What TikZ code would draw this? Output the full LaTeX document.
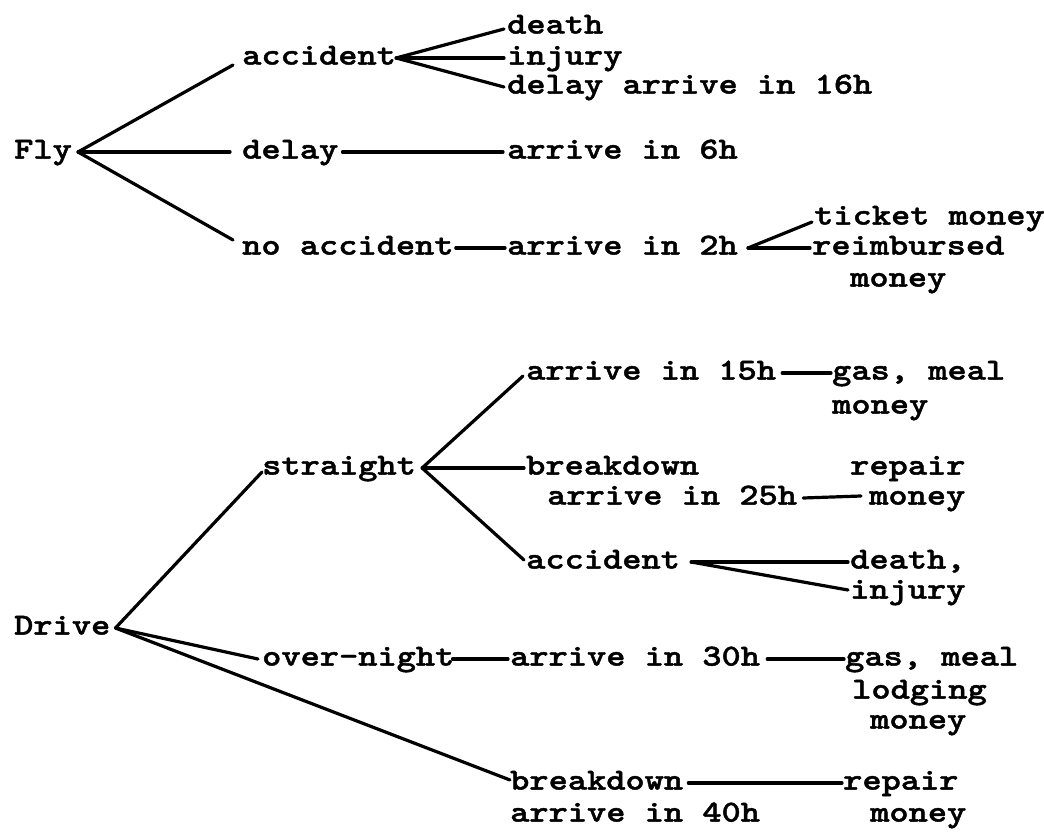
\documentclass[tikz,border=0pt]{standalone}
\usepackage{fontspec}
\newfontfamily\typew{lmmonolt10-bold.otf}[FakeBold=1.4, FakeStretch=1.2]
\begin{document}
\fontsize{30.5}{30.5}\selectfont\typew
\begin{tikzpicture}[x=1pt,y=-1pt,
  lbl/.style={anchor=mid west, inner sep=0pt, text height=13pt, text depth=4pt,
              font=\fontsize{30.5}{30.5}\selectfont\typew},
  edge/.style={line width=3.2pt, line cap=round, line join=round}]
\useasboundingbox (0,0) rectangle (1044,834);

% ---------------- Fly ----------------
\node[lbl] (fly)     at (14,152)  {Fly};
\node[lbl] (acc1)    at (242,58)  {accident};
\node[lbl] (delay1)  at (242,152) {delay};
\node[lbl] (noacc)   at (242,248) {no accident};
\node[lbl] (death1)  at (507,27)  {death};
\node[lbl] (injury1) at (507,58)  {injury};
\node[lbl] (delay16) at (507,87)  {delay arrive in 16h};
\node[lbl] (arr6)    at (507,152) {arrive in 6h};
\node[lbl] (arr2)    at (507,248) {arrive in 2h};
\node[lbl] (ticket)  at (814,218) {ticket money};
\node[lbl] (reimb)   at (812,248) {reimbursed};
\node[lbl] (money1)  at (850,280) {money};

\coordinate (jfly)  at ([xshift=6]fly.mid east);
\coordinate (jacc1) at ([xshift=0]acc1.mid east);
\coordinate (jarr2) at ([xshift=10]arr2.mid east);

\draw[edge] (jfly) -- ([shift={(-9,7)}]acc1.mid west);
\draw[edge] (jfly) -- ([xshift=-12]delay1.mid west);
\draw[edge] (jfly) -- ([shift={(-9,-8)}]noacc.mid west);
\draw[edge] (jacc1) -- ([shift={(-3,2)}]death1.mid west);
\draw[edge] (jacc1) -- ([xshift=-3]injury1.mid west);
\draw[edge] (jacc1) -- ([xshift=-3]delay16.mid west);
\draw[edge] ([xshift=4]delay1.mid east) -- ([xshift=-4]arr6.mid west);
\draw[edge] ([xshift=2]noacc.mid east) -- ([xshift=-2]arr2.mid west);
\draw[edge] (jarr2) -- ([shift={(-2,4)}]ticket.mid west);
\draw[edge] (jarr2) -- ([xshift=-2]reimb.mid west);

% ---------------- Drive ----------------
\node[lbl] (drive)    at (14,628)  {Drive};
\node[lbl] (straight) at (262,468) {straight};
\node[lbl] (arr15)    at (526,373) {arrive in 15h};
\node[lbl] (gas1)     at (832,373) {gas, meal};
\node[lbl] (money2)   at (832,407) {money};
\node[lbl] (bd1)      at (526,468) {breakdown};
\node[lbl] (arr25)    at (547,498) {arrive in 25h};
\node[lbl] (repair1)  at (850,468) {repair};
\node[lbl] (money3)   at (869,498) {money};
\node[lbl] (acc2)     at (526,562) {accident};
\node[lbl] (death2)   at (850,562) {death,};
\node[lbl] (injury2)  at (850,592) {injury};
\node[lbl] (night)    at (262,659) {over-night};
\node[lbl] (arr30)    at (510,659) {arrive in 30h};
\node[lbl] (gas2)     at (845,659) {gas, meal};
\node[lbl] (lodging)  at (852,692) {lodging};
\node[lbl] (money4)   at (870,722) {money};
\node[lbl] (bd2)      at (510,783) {breakdown};
\node[lbl] (arr40)    at (510,815) {arrive in 40h};
\node[lbl] (repair2)  at (843,783) {repair};
\node[lbl] (money5)   at (870,815) {money};

\coordinate (jdrive) at ([xshift=5]drive.mid east);
\coordinate (jstr)   at ([xshift=6]straight.mid east);
\coordinate (jacc2)  at ([xshift=11]acc2.mid east);

\draw[edge] (jdrive) -- ([shift={(0,4)}]straight.mid west);
\draw[edge] (jdrive) -- ([xshift=-4]night.mid west);
\draw[edge] (jdrive) -- ([shift={(0,-3)}]bd2.mid west);
\draw[edge] (jstr) -- ([shift={(-3,3)}]arr15.mid west);
\draw[edge] (jstr) -- ([xshift=-2]bd1.mid west);
\draw[edge] (jstr) -- ([shift={(-2,-2)}]acc2.mid west);
\draw[edge] ([xshift=6]arr15.mid east) -- ([xshift=-1]gas1.mid west);
\draw[edge] ([xshift=6]arr25.mid east) -- ([shift={(-8,-2)}]money3.mid west);
\draw[edge] (jacc2) -- ([xshift=-2]death2.mid west);
\draw[edge] (jacc2) -- ([shift={(-2,-2)}]injury2.mid west);
\draw[edge] ([xshift=-2]night.mid east) -- ([xshift=-2]arr30.mid west);
\draw[edge] ([xshift=7]arr30.mid east) -- ([xshift=-1]gas2.mid west);
\draw[edge] ([xshift=5]bd2.mid east) -- ([xshift=-1]repair2.mid west);
\end{tikzpicture}
\end{document}
